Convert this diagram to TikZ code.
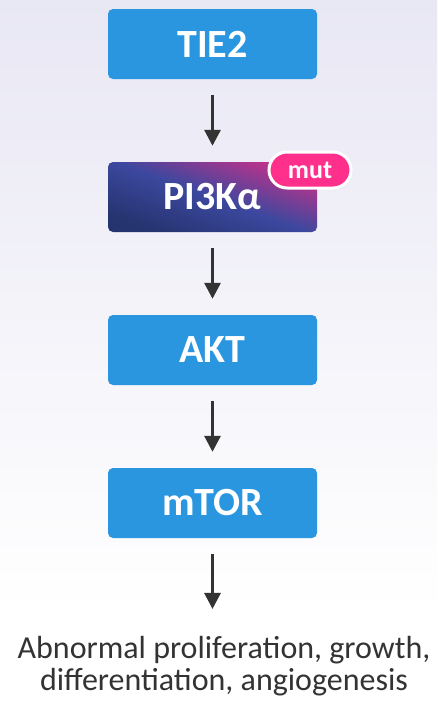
\documentclass[tikz,border=0pt]{standalone}
\usepackage{fontspec}
\setmainfont{Carlito}
\usetikzlibrary{arrows.meta}
\definecolor{boxblue}{HTML}{2A96E0}
\definecolor{bgtop}{HTML}{E8E7F4}
\definecolor{arrowgray}{HTML}{333333}
\definecolor{mutpink}{HTML}{FF2F8C}
\definecolor{pinavy}{HTML}{25336F}
\definecolor{pimid}{HTML}{3C489E}
\definecolor{pimag}{HTML}{C4318A}
\tikzset{
  pathbox/.style={rounded corners=5pt, minimum width=209pt, minimum height=70pt,
    text=white, font=\fontsize{40}{44}\selectfont\bfseries},
  bluebox/.style={pathbox, fill=boxblue},
  link/.style={->, line width=3pt, arrowgray, shorten <=16pt, shorten >=16pt},
}
\begin{document}
\begin{tikzpicture}[>={Triangle[length=16pt,width=16pt]}, x=1pt, y=-1pt]
    \useasboundingbox (0,0) rectangle (437,702);
    \shade[top color=bgtop, bottom color=white] (0,0) rectangle (437,612);
    \fill[white] (0,612) rectangle (437,702);
    \node[bluebox] (tie) at (212.5,44) {TIE2};
    \node[pathbox, top color=pimag, bottom color=pinavy, middle color=pimid,
      shading angle=-20] (pik) at (212.5,197) {PI3Kα};
    \node[draw=white, line width=3pt, fill=mutpink, rounded corners=18pt,
      minimum width=82pt, minimum height=36pt, text=white,
      font=\fontsize{26}{28}\selectfont\bfseries] (mut) at (310,170) {mut};
    \node[bluebox] (akt) at (212.5,350) {AKT};
    \node[bluebox] (mtor) at (212.5,503) {mTOR};
    \node[align=center, inner sep=0pt, text=arrowgray,
      font=\fontsize{32}{32}\selectfont] (effect) at (224,666)
      {Abnormal proliferation, growth,\\differentiation, angiogenesis};
    \draw[link] (tie) -- (pik);
    \draw[link] (pik) -- (akt);
    \draw[link] (akt) -- (mtor);
    \draw[link, shorten >=27pt] (mtor) -- (effect.north -| mtor);
\end{tikzpicture}
\end{document}
